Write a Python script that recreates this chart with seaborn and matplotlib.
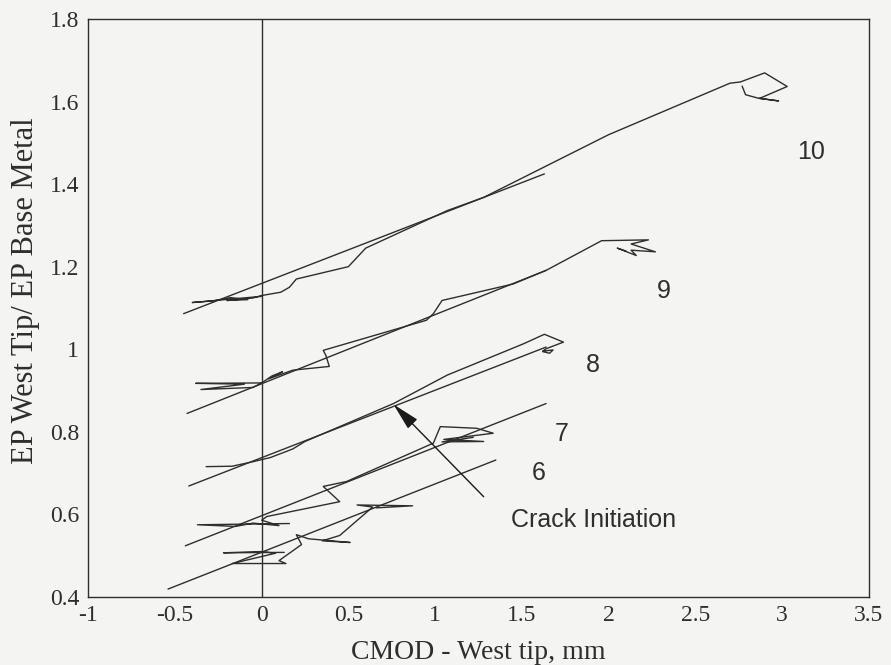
import matplotlib
matplotlib.use("Agg")
import matplotlib.pyplot as plt
import seaborn as sns
import pandas as pd

# ---------------- data ----------------
# straight reference lines for each test
ref10_x = [-0.45, 1.63]
ref10_y = [1.086, 1.425]
ref9_x = [-0.43, 1.64]
ref9_y = [0.844, 1.191]
ref8_x = [-0.42, 1.64]
ref8_y = [0.668, 1.005]
ref7_x = [-0.44, 1.64]
ref7_y = [0.523, 0.868]
ref6_x = [-0.54, 1.35]
ref6_y = [0.418, 0.731]

# measured traces
load10_x = [0.00, -0.40, -0.28, -0.18, -0.08, -0.20, -0.05, 0.00, 0.11, 0.16, 0.20, 0.50,
            0.60, 1.07, 1.28, 2.00, 2.70, 2.76, 2.90, 3.03, 2.87, 2.98, 2.86, 2.79, 2.77]
load10_y = [1.128, 1.113, 1.117, 1.125, 1.120, 1.118, 1.124, 1.130, 1.138, 1.150, 1.170, 1.200,
            1.245, 1.336, 1.368, 1.520, 1.645, 1.648, 1.670, 1.637, 1.608, 1.602, 1.609, 1.617, 1.638]

load9_x = [0.00, -0.38, -0.10, -0.35, -0.05, 0.00, 0.06, 0.12, 0.04, 0.18, 0.39, 0.37, 0.355,
           0.95, 0.99, 1.04, 1.45, 1.64, 1.96, 2.23, 2.13, 2.27, 2.13, 2.16, 2.05, 2.10]
load9_y = [0.918, 0.917, 0.915, 0.902, 0.907, 0.918, 0.935, 0.945, 0.928, 0.949, 0.958, 0.985, 0.997,
           1.070, 1.086, 1.118, 1.158, 1.191, 1.263, 1.265, 1.255, 1.236, 1.240, 1.227, 1.245, 1.238]

load8_x = [-0.32, -0.17, -0.05, 0.05, 0.18, 0.25, 0.76, 1.07, 1.51, 1.63, 1.74, 1.64, 1.62, 1.68, 1.66, 1.62]
load8_y = [0.715, 0.716, 0.727, 0.737, 0.758, 0.776, 0.868, 0.937, 1.013, 1.036, 1.017, 1.001, 0.995,
           0.998, 0.990, 0.994]

load7_x = [0.16, -0.37, -0.15, -0.05, 0.10, 0.00, 0.03, 0.45, 0.355, 0.49, 0.99, 1.03, 1.24, 1.335,
           1.05, 1.28, 1.04, 1.22]
load7_y = [0.577, 0.574, 0.570, 0.578, 0.572, 0.585, 0.594, 0.630, 0.667, 0.679, 0.772, 0.812, 0.808,
           0.796, 0.781, 0.776, 0.775, 0.786]

load6_x = [0.13, -0.22, 0.00, 0.08, -0.17, 0.14, 0.10, 0.23, 0.20, 0.27, 0.51, 0.35, 0.45, 0.64,
           0.55, 0.87, 0.66]
load6_y = [0.507, 0.506, 0.509, 0.505, 0.480, 0.480, 0.487, 0.526, 0.550, 0.540, 0.531, 0.535, 0.548,
           0.617, 0.622, 0.620, 0.615]

# curve labels
label_text = ["10", "9", "8", "7", "6"]
label_x = [3.17, 2.32, 1.91, 1.73, 1.60]
label_y = [1.478, 1.142, 0.961, 0.794, 0.700]

# crack-initiation annotation
crack_tip = (0.76, 0.866)
crack_tail = (1.28, 0.642)
crack_text_xy = (1.915, 0.586)

x_ticks = [-1, -0.5, 0, 0.5, 1, 1.5, 2, 2.5, 3, 3.5]
x_ticklabels = ["-1", "-0.5", "0", "0.5", "1", "1.5", "2", "2.5", "3", "3.5"]
y_ticks = [0.4, 0.6, 0.8, 1.0, 1.2, 1.4, 1.6, 1.8]
y_ticklabels = ["0.4", "0.6", "0.8", "1", "1.2", "1.4", "1.6", "1.8"]

# ---------------- build long table ----------------
segments = [
    ("ref10", ref10_x, ref10_y), ("load10", load10_x, load10_y),
    ("ref9", ref9_x, ref9_y), ("load9", load9_x, load9_y),
    ("ref8", ref8_x, ref8_y), ("load8", load8_x, load8_y),
    ("ref7", ref7_x, ref7_y), ("load7", load7_x, load7_y),
    ("ref6", ref6_x, ref6_y), ("load6", load6_x, load6_y),
]
rows = []
for name, xs, ys in segments:
    for i, (xv, yv) in enumerate(zip(xs, ys)):
        rows.append({"seg": name, "order": i, "x": xv, "y": yv})
df = pd.DataFrame(rows)

# ---------------- plot ----------------
sns.set_style("white")
plt.rcParams["font.family"] = ["Liberation Serif", "DejaVu Serif"]

bg = "#f4f4f2"
ink = "#2e2e2e"
fig = plt.figure(figsize=(8.91, 6.65), dpi=100, facecolor=bg)
ax = fig.add_axes([0.099, 0.103, 0.876, 0.868])
ax.set_facecolor(bg)

sns.lineplot(data=df, x="x", y="y", units="seg", estimator=None, sort=False,
             color=ink, linewidth=1.0, ax=ax, legend=False)

ax.axvline(0, color=ink, linewidth=1.0)

ax.set_xlim(-1, 3.5)
ax.set_ylim(0.4, 1.8)
ax.set_xticks(x_ticks)
ax.set_xticklabels(x_ticklabels)
ax.set_yticks(y_ticks)
ax.set_yticklabels(y_ticklabels)

for s in ax.spines.values():
    s.set_color(ink)
    s.set_linewidth(1.0)
    s.set_visible(True)

ax.tick_params(axis="x", direction="in", length=6, width=1, colors=ink, labelsize=17, pad=6)
ax.tick_params(axis="y", direction="out", length=6, width=1, colors=ink, labelsize=17, pad=0.5)

ax.set_xlabel("CMOD - West tip, mm", fontsize=20, color=ink, labelpad=10)
ax.set_ylabel("EP West Tip/ EP Base Metal", fontsize=22, color=ink)
ax.yaxis.set_label_coords(-0.062, 0.53)

sans = ["Liberation Sans", "DejaVu Sans"]
for t, xv, yv in zip(label_text, label_x, label_y):
    ax.text(xv, yv, t, family=sans, fontsize=18, color=ink, ha="center", va="center")

ax.annotate("", xy=crack_tip, xytext=crack_tail,
            arrowprops=dict(arrowstyle="-|>,head_length=1.7,head_width=0.4",
                            color="#1a1a1a", lw=1.0, shrinkA=0, shrinkB=0))
ax.text(crack_text_xy[0], crack_text_xy[1], "Crack Initiation", family=sans, fontsize=18,
        color=ink, ha="center", va="center")

fig.savefig("out.png", dpi=100, facecolor=bg)
